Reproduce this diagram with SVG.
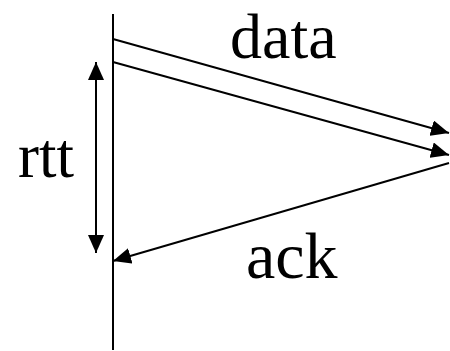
<svg xmlns="http://www.w3.org/2000/svg" width="450" height="351" viewBox="0 0 450 351">
<defs>
<style>
.ln{stroke:#000;stroke-width:2;fill:none}
.lbl{font-family:"Liberation Serif","Times New Roman",serif;fill:#000}
</style>
<marker id="ah" markerUnits="userSpaceOnUse" markerWidth="18" markerHeight="16" refX="18" refY="8" orient="auto-start-reverse" viewBox="0 0 18 16">
<path d="M0,0 L18,8 L0,16 z" fill="#000"/>
</marker>
</defs>
<rect width="450" height="351" fill="#fff"/>
<g id="timeline"><line class="ln" x1="113" y1="14" x2="113" y2="350" stroke="#222"/></g>
<g id="connectors">
<line class="ln" x1="113" y1="39" x2="449" y2="133" marker-end="url(#ah)"/>
<line class="ln" x1="113" y1="62" x2="449" y2="155" marker-end="url(#ah)"/>
<line class="ln" x1="449" y1="163" x2="113" y2="261" marker-end="url(#ah)"/>
<line class="ln" x1="96" y1="62" x2="96" y2="253" marker-start="url(#ah)" marker-end="url(#ah)"/>
</g>
<g id="labels">
<text class="lbl" x="230" y="58" font-size="64">data</text>
<text class="lbl" x="18" y="177" font-size="63">rtt</text>
<text class="lbl" x="246" y="278" font-size="66">ack</text>
</g>
</svg>
